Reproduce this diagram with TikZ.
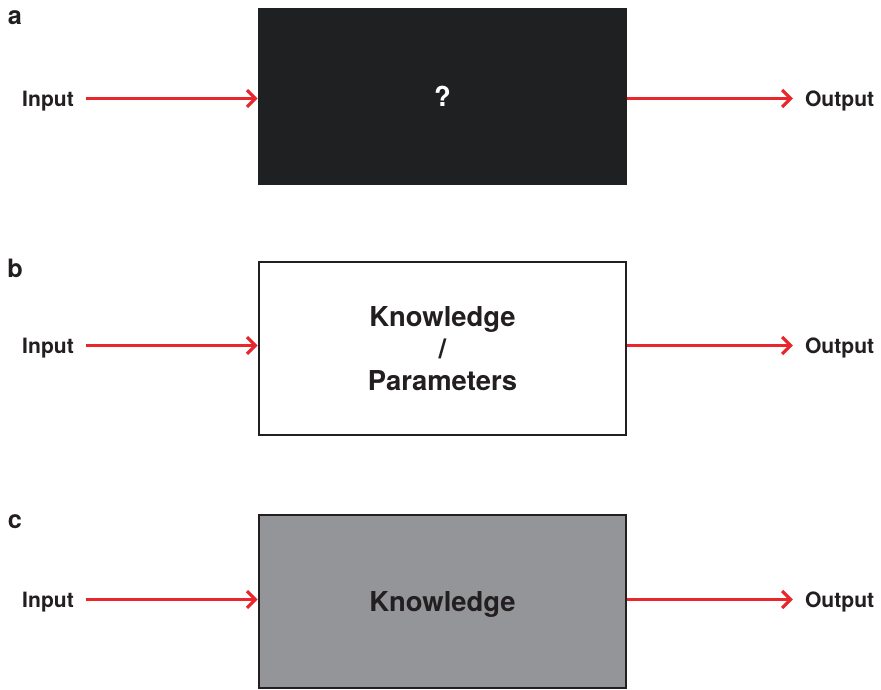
\documentclass[tikz,border=0pt]{standalone}
\usepackage{fontspec}
\setmainfont{TeX Gyre Heros}
\usepackage{tikz}
\usetikzlibrary{arrows.meta,positioning}
\definecolor{boxdark}{HTML}{1F2022}
\definecolor{boxgray}{HTML}{939598}
\definecolor{linered}{HTML}{E8262B}
\definecolor{txtdark}{HTML}{231F20}

\begin{document}
\begin{tikzpicture}[
font=\bfseries\fontsize{15}{18}\selectfont,
text=txtdark,
box/.style={draw=txtdark,line width=2pt,minimum width=9.175cm,minimum height=4.325cm,
  font=\bfseries\fontsize{19.5}{23}\selectfont,align=center},
label/.style={inner xsep=0.3cm,inner ysep=0pt,text depth=0pt},
panel/.style={font=\bfseries\fontsize{18}{20}\selectfont,text depth=0pt},
flow/.style={->,draw=linered,line width=2.2pt,>={Straight Barb[length=6pt,width=12pt,line width=2.2pt]}}
]
    % Frame
    \useasboundingbox (0,0) rectangle (22.025,17.225);

    % Panel a
    \node[panel] (lbl-a) at (0.375,16.775) {a};
    \node[box,fill=boxdark,draw=boxdark,minimum height=4.375cm,text=white] (box-a) at (11.0625,14.8125) {?};
    \node[label] (in-a) at (1.2,14.7625) {Input};
    \node[label] (out-a) at (20.99,14.7625) {Output};
    \draw[flow] (in-a.east) -- (in-a.east -| box-a.west);
    \draw[flow] (out-a.west -| box-a.east) -- (out-a.west);

    % Panel b
    \node[panel] (lbl-b) at (0.375,10.525) {b};
    \node[box,fill=white] (box-b) at (11.0625,8.5125) {Knowledge\\/\\Parameters};
    \node[label] (in-b) at (1.2,8.5875) {Input};
    \node[label] (out-b) at (20.99,8.5875) {Output};
    \draw[flow] (in-b.east) -- (in-b.east -| box-b.west);
    \draw[flow] (out-b.west -| box-b.east) -- (out-b.west);

    % Panel c
    \node[panel] (lbl-c) at (0.375,4.175) {c};
    \node[box,fill=boxgray,text depth=0pt] (box-c) at (11.0625,2.1875) {Knowledge};
    \node[label] (in-c) at (1.2,2.2375) {Input};
    \node[label] (out-c) at (20.99,2.2375) {Output};
    \draw[flow] (in-c.east) -- (in-c.east -| box-c.west);
    \draw[flow] (out-c.west -| box-c.east) -- (out-c.west);

\end{tikzpicture}
\end{document}
